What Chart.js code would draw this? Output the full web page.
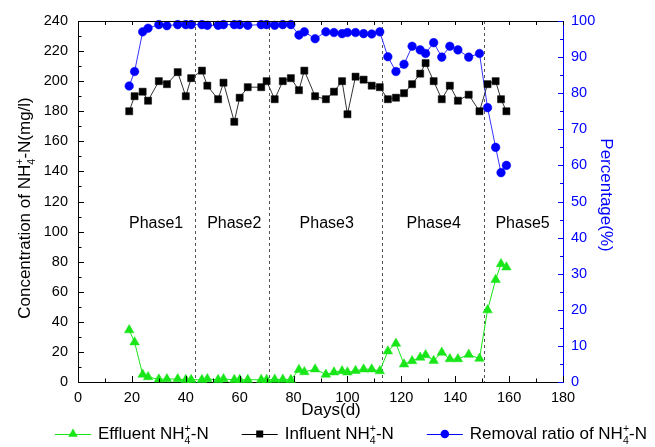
<!DOCTYPE html>
<html>
<head>
<meta charset="utf-8">
<script src="https://cdn.jsdelivr.net/npm/chart.js@4.4.1/dist/chart.umd.min.js"></script>
<style>
html, body { margin: 0; padding: 0; background: #fff; }
#wrap { width: 655px; height: 447px; }
</style>
</head>
<body>
<div id="wrap"><canvas id="chart" width="655" height="447"></canvas></div>
<script>
// sampling days (shared by all three series)
const days = [19, 21, 24, 26, 30, 33, 37, 40, 42, 46, 48, 52, 54, 58, 60, 63, 68, 70, 73, 76, 79,
    82, 84, 88, 92, 95, 98, 100, 103, 106, 109, 112,
    115, 118, 121, 124, 127, 129, 132, 135, 138, 141, 145, 149,
    152, 155, 157, 159];

// mg/l
const effluent = [34.5, 26.5, 5, 3.3, 1.8, 2, 2, 1.5, 1.5, 1.5, 2, 1.5, 2, 1.5, 1.5, 1.5, 1.5, 1.5, 1.7, 1.7, 1.5,
    8.2, 6.7, 8.5, 5, 6.5, 7.3, 6.5, 7.5, 8.5, 8.5, 7.3,
    20.5, 25.6, 11.8, 14, 16.3, 18, 14.2, 19.6, 15.3, 15.3, 18.2, 15.6,
    47.8, 68, 78.5, 76.3];

const influent = [180, 190, 193, 187, 200, 198, 206, 190, 202, 207, 197, 188, 199, 173, 189, 196, 196, 200, 188, 200, 202,
    194, 207, 190, 188, 193, 200, 178, 203, 201, 197, 196,
    188, 189, 192, 198, 205, 212, 200, 188, 197, 187, 191, 180,
    198, 200, 188, 180];

// %
const removal = [82, 86, 97, 98, 99, 98.7, 99, 99, 99, 99, 98.8, 98.8, 99, 99, 99, 98.8, 99, 99, 98.8, 99, 99,
    96.1, 97, 95.1, 97, 96.8, 96.5, 96.8, 96.8, 96.5, 96.4, 97,
    90.1, 86, 88, 93, 92, 91, 94, 90, 93, 92, 90, 91,
    76, 65, 58, 60];

const phaseBounds = [43.5, 71, 113, 150.5];
const phaseNames = ['Phase1', 'Phase2', 'Phase3', 'Phase4', 'Phase5'];
const phaseCenters = [29, 58, 92.3, 132, 165];
const phaseLabelLevel = 105;

const FONT = '"Liberation Sans", Arial, sans-serif';
const GREEN = '#19e619';
const BLUE = '#0000ff';

// text pieces: plain strings, or stacked {sup, sub}
const NH4 = ['NH', { sup: '+', sub: '4' }, '-N'];
const yTitle = ['Concentration of ', ...NH4, '(mg/l)'];
const legendItems = [
    { parts: ['Effluent ', ...NH4], color: GREEN, shape: 'triangle' },
    { parts: ['Influent ', ...NH4], color: '#000', shape: 'rect' },
    { parts: ['Removal ratio of ', ...NH4], color: BLUE, shape: 'circle' }
];

function drawRich(ctx, parts, x, y, size, measureOnly) {
    let cx = x;
    parts.forEach(p => {
        if (typeof p === 'string') {
            ctx.font = size + 'px ' + FONT;
            if (!measureOnly) ctx.fillText(p, cx, y);
            cx += ctx.measureText(p).width;
        } else {
            const s = size * 0.62;
            ctx.font = s + 'px ' + FONT;
            const w = Math.max(ctx.measureText(p.sup).width, ctx.measureText(p.sub).width);
            if (!measureOnly) {
                ctx.fillText(p.sup, cx, y - size * 0.3);
                ctx.fillText(p.sub, cx, y + size * 0.4);
            }
            cx += w;
        }
    });
    return cx - x;
}

function drawRichCentered(ctx, parts, x, y, size) {
    const w = drawRich(ctx, parts, 0, 0, size, true);
    drawRich(ctx, parts, x - w / 2, y, size, false);
}

function marker(ctx, shape, x, y, color) {
    ctx.fillStyle = color;
    ctx.beginPath();
    if (shape === 'triangle') {
        const r = 5.5;
        ctx.moveTo(x, y - r);
        ctx.lineTo(x + r * 0.866, y + r * 0.5);
        ctx.lineTo(x - r * 0.866, y + r * 0.5);
        ctx.closePath();
    } else if (shape === 'rect') {
        ctx.rect(x - 3.5, y - 3.5, 7, 7);
    } else {
        ctx.arc(x, y, 4.3, 0, Math.PI * 2);
    }
    ctx.fill();
}

function line(ctx, x1, y1, x2, y2) {
    ctx.beginPath();
    ctx.moveTo(x1, y1);
    ctx.lineTo(x2, y2);
    ctx.stroke();
}

const decor = {
    id: 'decor',
    beforeDatasetsDraw(chart) {
        const { ctx, chartArea: a, scales } = chart;
        ctx.save();
        ctx.strokeStyle = '#555';
        ctx.lineWidth = 1;
        ctx.setLineDash([3, 3]);
        phaseBounds.forEach(d => {
            const px = Math.round(scales.x.getPixelForValue(d)) + 0.5;
            line(ctx, px, a.top, px, a.bottom);
        });
        ctx.setLineDash([]);
        ctx.fillStyle = '#000';
        ctx.textBaseline = 'middle';
        ctx.textAlign = 'center';
        ctx.font = '16px ' + FONT;
        phaseNames.forEach((n, i) => {
            ctx.fillText(n, scales.x.getPixelForValue(phaseCenters[i]), scales.y.getPixelForValue(phaseLabelLevel));
        });
        ctx.restore();
    },
    afterDraw(chart) {
        const { ctx, chartArea: a, scales } = chart;
        ctx.save();
        ctx.lineWidth = 1;

        // top frame
        ctx.strokeStyle = '#000';
        line(ctx, a.left, a.top + 0.5, a.right, a.top + 0.5);

        // inward ticks
        for (let v = 0; v <= 180; v += 10) {
            const px = Math.round(scales.x.getPixelForValue(v)) + 0.5;
            const len = v % 20 === 0 ? 6 : 3.5;
            line(ctx, px, a.bottom, px, a.bottom - len);
            line(ctx, px, a.top, px, a.top + 4);
        }
        for (let v = 0; v <= 240; v += 10) {
            const py = Math.round(scales.y.getPixelForValue(v)) + 0.5;
            line(ctx, a.left, py, a.left + (v % 20 === 0 ? 6 : 3.5), py);
        }
        ctx.strokeStyle = BLUE;
        for (let v = 0; v <= 100; v += 5) {
            const py = Math.round(scales.y1.getPixelForValue(v)) + 0.5;
            line(ctx, a.right, py, a.right - (v % 10 === 0 ? 5 : 3), py);
        }

        // axis titles
        ctx.textBaseline = 'middle';
        ctx.textAlign = 'left';
        ctx.fillStyle = '#000';
        ctx.save();
        ctx.translate(25, 208);
        ctx.rotate(-Math.PI / 2);
        drawRichCentered(ctx, yTitle, 0, 0, 17);
        ctx.restore();

        ctx.save();
        ctx.fillStyle = BLUE;
        ctx.translate(606, 195);
        ctx.rotate(Math.PI / 2);
        drawRichCentered(ctx, ['Percentage(%)'], 0, 0, 17);
        ctx.restore();

        drawRichCentered(ctx, ['Days(d)'], 331, 410, 17);

        // legend
        let x = 55;
        const ly = 434;
        legendItems.forEach(item => {
            ctx.strokeStyle = item.color;
            line(ctx, x, ly + 0.5, x + 36, ly + 0.5);
            marker(ctx, item.shape, x + 18, ly, item.color);
            ctx.fillStyle = '#000';
            const w = drawRich(ctx, item.parts, x + 43, ly, 17, false);
            x += 43 + w + 33;
        });
        ctx.restore();
    }
};

const pts = vals => days.map((d, i) => ({ x: d, y: vals[i] }));

new Chart(document.getElementById('chart'), {
    type: 'line',
    data: {
        datasets: [
            {
                label: 'Effluent NH4+-N',
                data: pts(effluent),
                yAxisID: 'y',
                borderColor: GREEN,
                borderWidth: 1,
                pointStyle: 'triangle',
                pointRadius: 5.5,
                pointBackgroundColor: GREEN,
                pointBorderColor: GREEN,
                pointBorderWidth: 0.5
            },
            {
                label: 'Influent NH4+-N',
                data: pts(influent),
                yAxisID: 'y',
                borderColor: '#333',
                borderWidth: 1,
                pointStyle: 'rect',
                pointRadius: 5,
                pointBackgroundColor: '#000',
                pointBorderColor: '#000',
                pointBorderWidth: 0.5
            },
            {
                label: 'Removal ratio of NH4+-N',
                data: pts(removal),
                yAxisID: 'y1',
                borderColor: '#3333ff',
                borderWidth: 1,
                pointStyle: 'circle',
                pointRadius: 4.3,
                pointBackgroundColor: BLUE,
                pointBorderColor: BLUE,
                pointBorderWidth: 0.5
            }
        ]
    },
    options: {
        responsive: false,
        devicePixelRatio: 1,
        animation: false,
        clip: false,
        layout: { padding: { top: 21, left: 0, right: 0, bottom: 0 } },
        plugins: {
            legend: { display: false },
            tooltip: { enabled: false }
        },
        scales: {
            x: {
                type: 'linear',
                min: 0,
                max: 180,
                afterFit(s) { s.height = 65; },
                ticks: { stepSize: 20, color: '#000', padding: 7, font: { family: FONT, size: 14.5 } },
                grid: { display: false, drawTicks: false },
                border: { color: '#000', width: 1 }
            },
            y: {
                position: 'left',
                min: 0,
                max: 240,
                afterFit(s) { s.width = 78; },
                ticks: { stepSize: 20, color: '#000', padding: 10, font: { family: FONT, size: 14.5 } },
                grid: { display: false, drawTicks: false },
                border: { color: '#000', width: 1 }
            },
            y1: {
                position: 'right',
                min: 0,
                max: 100,
                afterFit(s) { s.width = 92; },
                ticks: { stepSize: 10, color: BLUE, padding: 8, font: { family: FONT, size: 14.5 } },
                grid: { display: false, drawTicks: false },
                border: { color: BLUE, width: 1 }
            }
        }
    },
    plugins: [decor]
});
</script>
</body>
</html>
